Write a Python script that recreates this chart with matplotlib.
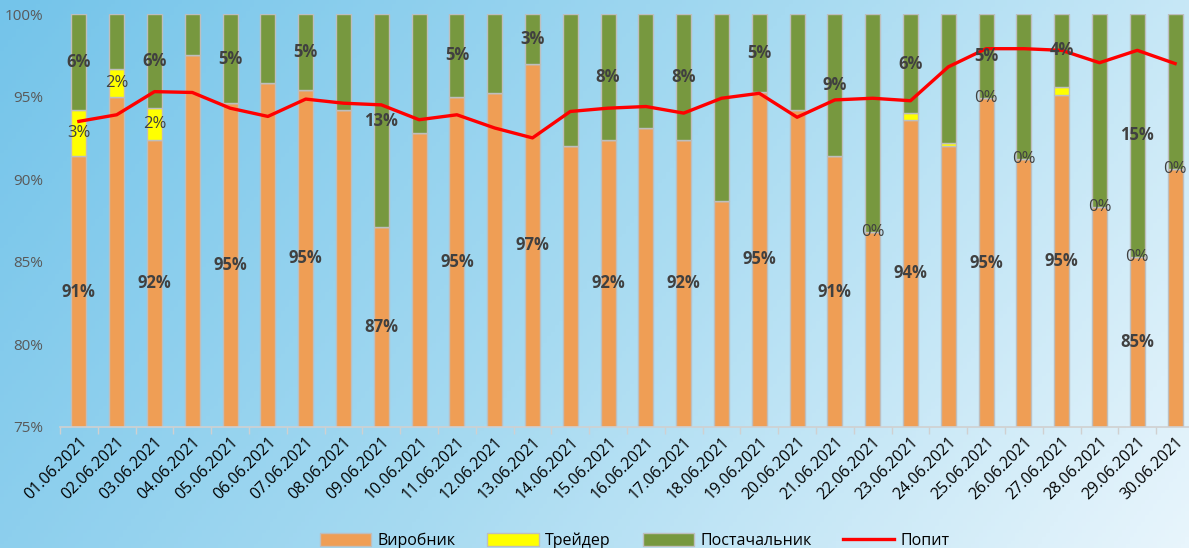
import numpy as np
import matplotlib.pyplot as plt
from matplotlib.colors import LinearSegmentedColormap

plt.rcParams['font.family'] = ['Open Sans', 'DejaVu Sans']

dates = ['01.06.2021', '02.06.2021', '03.06.2021', '04.06.2021', '05.06.2021',
         '06.06.2021', '07.06.2021', '08.06.2021', '09.06.2021', '10.06.2021',
         '11.06.2021', '12.06.2021', '13.06.2021', '14.06.2021', '15.06.2021',
         '16.06.2021', '17.06.2021', '18.06.2021', '19.06.2021', '20.06.2021',
         '21.06.2021', '22.06.2021', '23.06.2021', '24.06.2021', '25.06.2021',
         '26.06.2021', '27.06.2021', '28.06.2021', '29.06.2021', '30.06.2021']

# shares, %
vyrobnyk = [91.4, 95.0, 92.4, 97.5, 94.6, 95.8, 95.4, 94.2, 87.1, 92.8,
            95.0, 95.2, 97.0, 92.0, 92.4, 93.1, 92.4, 88.7, 95.3, 94.2,
            91.4, 86.8, 93.6, 92.0, 94.9, 91.2, 95.1, 88.3, 85.3, 90.6]
treider = [2.8, 1.7, 1.9, 0, 0, 0, 0, 0, 0, 0,
           0, 0, 0, 0, 0, 0, 0, 0, 0, 0,
           0, 0, 0.4, 0.2, 0, 0, 0.5, 0, 0, 0]
postach = [5.8, 3.3, 5.7, 2.5, 5.4, 4.2, 4.6, 5.8, 12.9, 7.2,
           5.0, 4.8, 3.0, 8.0, 7.6, 6.9, 7.6, 11.3, 4.7, 5.8,
           8.6, 13.2, 6.0, 7.8, 5.1, 8.8, 4.4, 11.7, 14.7, 9.4]
popyt = [93.5, 93.9, 95.3, 95.25, 94.3, 93.8, 94.85, 94.6, 94.5, 93.6,
         93.9, 93.1, 92.5, 94.1, 94.3, 94.4, 94.0, 94.9, 95.2, 93.75,
         94.8, 94.9, 94.75, 96.8, 97.9, 97.9, 97.8, 97.05, 97.8, 97.0]

# which bars carry data labels
main_labels = [0, 2, 4, 6, 8, 10, 12, 14, 16, 18, 20, 22, 24, 26, 28]
trader_labels = [0, 1, 2, 21, 24, 25, 27, 28, 29]

c_orange = '#EF9E55'
c_yellow = '#FFFF00'
c_green = '#77983F'
c_red = '#FF0000'
c_edge = '#BEBEBE'

fig = plt.figure(figsize=(11.89, 5.48), dpi=100)

# gradient background
bg = fig.add_axes([0, 0, 1, 1], zorder=-1)
gx, gy = np.meshgrid(np.linspace(0, 1, 300), np.linspace(0, 1, 150))
t = 0.75 * gx + 0.25 * gy
cmap = LinearSegmentedColormap.from_list('bg', ['#74C4EA', '#A6DAF1', '#E8F5FC'])
bg.imshow(t, cmap=cmap, aspect='auto', extent=[0, 1, 0, 1], origin='upper')
bg.axis('off')

ax = fig.add_axes([60 / 1189, 1 - 427 / 548, 1134 / 1189, 413 / 548])
ax.patch.set_alpha(0)

x = np.arange(len(dates))
v = np.array(vyrobnyk)
tr = np.array(treider)
p = np.array(postach)
w = 0.4

b1 = ax.bar(x, v, w, color=c_orange, edgecolor=c_edge, linewidth=1, label='Виробник', zorder=2)
b2 = ax.bar(x, tr, w, bottom=v, color=c_yellow, edgecolor=c_edge, linewidth=1, label='Трейдер', zorder=2)
b3 = ax.bar(x, p, w, bottom=v + tr, color=c_green, edgecolor=c_edge, linewidth=1, label='Постачальник', zorder=2)
ln, = ax.plot(x, popyt, color=c_red, linewidth=2.4, label='Попит', zorder=3)

ymin = 75
lab_kw = dict(ha='center', va='center', color='#404040', fontsize=12, zorder=4)
for i in main_labels:
    ax.text(x[i], (ymin + v[i]) / 2, f'{v[i]:.0f}%', fontweight='bold', **lab_kw)
    ax.text(x[i], v[i] + tr[i] + p[i] / 2, f'{p[i]:.0f}%', fontweight='bold', **lab_kw)
for i in trader_labels:
    ax.text(x[i], v[i] + tr[i] / 2, f'{tr[i]:.0f}%', **lab_kw)

ax.set_ylim(ymin, 100)
ax.set_xlim(-0.5, len(dates) - 0.5)
ax.set_yticks(range(75, 101, 5))
ax.set_yticklabels([f'{t}%' for t in range(75, 101, 5)], color='#595959', fontsize=11)
ax.tick_params(axis='y', length=0, pad=12)

ax.set_xticks(np.arange(-0.5, len(dates), 1), minor=False)
ax.set_xticklabels([])
ax.set_xticks(x, minor=True)
ax.set_xticklabels(dates, minor=True, rotation=45, ha='right', va='top',
                   rotation_mode='anchor', fontsize=11.5, color='black')
ax.tick_params(axis='x', which='major', length=5, color='#D0D0D0', width=1)
ax.tick_params(axis='x', which='minor', length=0, pad=5)

for s in ['top', 'right', 'left']:
    ax.spines[s].set_visible(False)
ax.spines['bottom'].set_color('#D0D0D0')
ax.spines['bottom'].set_linewidth(1.2)

fig.legend([b1, b2, b3, ln], ['Виробник', 'Трейдер', 'Постачальник', 'Попит'],
           loc='lower center', bbox_to_anchor=(0.534, -0.028), ncol=4, frameon=False,
           fontsize=11.5, handlelength=3.2, handleheight=0.85, columnspacing=2.0,
           handletextpad=0.4)

fig.savefig('out.png', dpi=100)
